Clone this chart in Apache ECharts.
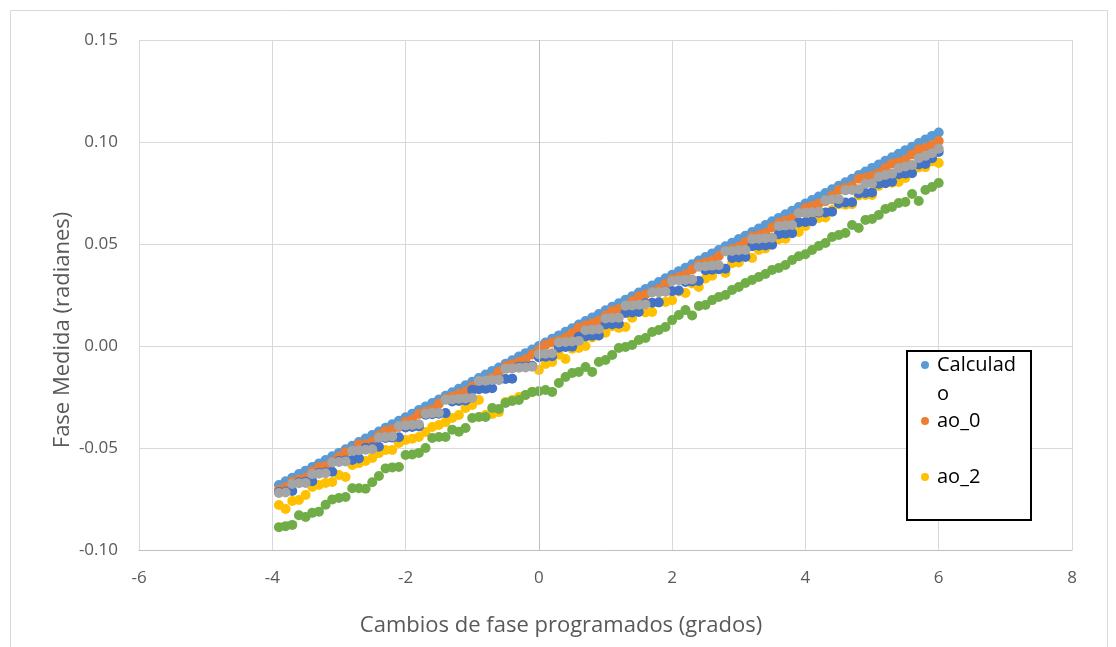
<!DOCTYPE html>
<html>
<head>
<meta charset="utf-8">
<script src="https://cdn.jsdelivr.net/npm/echarts@6/dist/echarts.min.js"></script>
<style>
html,body{margin:0;padding:0;background:#fff;}
#chart{width:1116px;height:647px;}
</style>
</head>
<body>
<div id="chart"></div>
<script>
// Programmed phase changes (degrees)
const xs = [-3.9,-3.8,-3.7,-3.6,-3.5,-3.4,-3.3,-3.2,-3.1,-3.0,
  -2.9,-2.8,-2.7,-2.6,-2.5,-2.4,-2.3,-2.2,-2.1,-2.0,
  -1.9,-1.8,-1.7,-1.6,-1.5,-1.4,-1.3,-1.2,-1.1,-1.0,
  -0.9,-0.8,-0.7,-0.6,-0.5,-0.4,-0.3,-0.2,-0.1,0.0,
  0.1,0.2,0.3,0.4,0.5,0.6,0.7,0.8,0.9,1.0,
  1.1,1.2,1.3,1.4,1.5,1.6,1.7,1.8,1.9,2.0,
  2.1,2.2,2.3,2.4,2.5,2.6,2.7,2.8,2.9,3.0,
  3.1,3.2,3.3,3.4,3.5,3.6,3.7,3.8,3.9,4.0,
  4.1,4.2,4.3,4.4,4.5,4.6,4.7,4.8,4.9,5.0,
  5.1,5.2,5.3,5.4,5.5,5.6,5.7,5.8,5.9,6.0];

const calculado = [-0.0681,-0.0663,-0.0646,-0.0628,-0.0611,-0.0593,-0.0576,-0.0559,-0.0541,-0.0524,
  -0.0506,-0.0489,-0.0471,-0.0454,-0.0436,-0.0419,-0.0401,-0.0384,-0.0367,-0.0349,
  -0.0332,-0.0314,-0.0297,-0.0279,-0.0262,-0.0244,-0.0227,-0.0209,-0.0192,-0.0175,
  -0.0157,-0.0140,-0.0122,-0.0105,-0.0087,-0.0070,-0.0052,-0.0035,-0.0017,0.0000,
  0.0017,0.0035,0.0052,0.0070,0.0087,0.0105,0.0122,0.0140,0.0157,0.0175,
  0.0192,0.0209,0.0227,0.0244,0.0262,0.0279,0.0297,0.0314,0.0332,0.0349,
  0.0367,0.0384,0.0401,0.0419,0.0436,0.0454,0.0471,0.0489,0.0506,0.0524,
  0.0541,0.0559,0.0576,0.0593,0.0611,0.0628,0.0646,0.0663,0.0681,0.0698,
  0.0716,0.0733,0.0750,0.0768,0.0785,0.0803,0.0820,0.0838,0.0855,0.0873,
  0.0890,0.0908,0.0925,0.0942,0.0960,0.0977,0.0995,0.1012,0.1030,0.1047];

const ao_0 = [-0.0706,-0.0693,-0.0666,-0.0656,-0.0646,-0.0615,-0.0594,-0.0589,-0.0567,-0.0544,
  -0.0521,-0.0513,-0.0483,-0.0482,-0.0468,-0.0439,-0.0417,-0.0409,-0.0397,-0.0371,
  -0.0360,-0.0333,-0.0322,-0.0313,-0.0283,-0.0259,-0.0247,-0.0235,-0.0223,-0.0199,
  -0.0175,-0.0169,-0.0155,-0.0127,-0.0101,-0.0090,-0.0079,-0.0065,-0.0042,-0.0020,
  0.0005,0.0017,0.0027,0.0040,0.0063,0.0089,0.0100,0.0111,0.0124,0.0149,
  0.0172,0.0181,0.0193,0.0219,0.0243,0.0253,0.0266,0.0278,0.0304,0.0327,
  0.0338,0.0350,0.0375,0.0399,0.0409,0.0419,0.0441,0.0465,0.0474,0.0486,
  0.0510,0.0534,0.0543,0.0554,0.0581,0.0604,0.0614,0.0626,0.0652,0.0675,
  0.0686,0.0697,0.0710,0.0736,0.0765,0.0775,0.0784,0.0820,0.0825,0.0834,
  0.0847,0.0873,0.0895,0.0901,0.0914,0.0939,0.0963,0.0972,0.0984,0.1005];

const ao_1 = [-0.0721,-0.0718,-0.0676,-0.0673,-0.0671,-0.0628,-0.0626,-0.0624,-0.0571,-0.0569,
  -0.0566,-0.0514,-0.0511,-0.0509,-0.0506,-0.0449,-0.0446,-0.0444,-0.0392,-0.0389,
  -0.0387,-0.0384,-0.0332,-0.0329,-0.0327,-0.0264,-0.0262,-0.0259,-0.0257,-0.0255,
  -0.0172,-0.0170,-0.0167,-0.0165,-0.0112,-0.0110,-0.0107,-0.0105,-0.0102,-0.0040,
  -0.0038,-0.0035,0.0017,0.0020,0.0022,0.0025,0.0077,0.0080,0.0082,0.0135,
  0.0137,0.0139,0.0197,0.0199,0.0202,0.0204,0.0262,0.0264,0.0267,0.0319,
  0.0322,0.0324,0.0326,0.0389,0.0391,0.0394,0.0396,0.0464,0.0466,0.0469,
  0.0471,0.0524,0.0526,0.0528,0.0531,0.0588,0.0591,0.0593,0.0651,0.0653,
  0.0656,0.0658,0.0715,0.0718,0.0720,0.0763,0.0765,0.0768,0.0795,0.0798,
  0.0830,0.0838,0.0845,0.0872,0.0880,0.0887,0.0920,0.0932,0.0945,0.0967];

const ao_2 = [-0.0779,-0.0799,-0.0760,-0.0755,-0.0730,-0.0691,-0.0681,-0.0672,-0.0667,-0.0632,
  -0.0642,-0.0583,-0.0574,-0.0564,-0.0549,-0.0525,-0.0510,-0.0510,-0.0475,-0.0461,
  -0.0455,-0.0446,-0.0422,-0.0397,-0.0387,-0.0373,-0.0353,-0.0338,-0.0304,-0.0289,
  -0.0265,-0.0338,-0.0333,-0.0324,-0.0275,-0.0265,-0.0250,-0.0240,-0.0225,-0.0118,
  -0.0088,-0.0078,-0.0043,-0.0064,-0.0013,-0.0010,0.0000,0.0042,0.0052,0.0065,
  0.0097,0.0089,0.0093,0.0139,0.0172,0.0164,0.0167,0.0214,0.0216,0.0224,
  0.0267,0.0260,0.0306,0.0289,0.0331,0.0344,0.0376,0.0358,0.0406,0.0409,
  0.0451,0.0431,0.0471,0.0478,0.0516,0.0523,0.0526,0.0565,0.0559,0.0588,
  0.0621,0.0628,0.0630,0.0667,0.0695,0.0693,0.0695,0.0738,0.0740,0.0740,
  0.0785,0.0798,0.0800,0.0804,0.0824,0.0867,0.0875,0.0877,0.0905,0.0897];

const ao_3 = [-0.0716,-0.0713,-0.0711,-0.0668,-0.0666,-0.0663,-0.0621,-0.0619,-0.0616,-0.0564,
  -0.0561,-0.0559,-0.0551,-0.0499,-0.0496,-0.0494,-0.0451,-0.0449,-0.0447,-0.0399,
  -0.0397,-0.0394,-0.0337,-0.0334,-0.0332,-0.0329,-0.0272,-0.0269,-0.0267,-0.0215,
  -0.0212,-0.0210,-0.0207,-0.0165,-0.0162,-0.0160,-0.0102,-0.0100,-0.0097,-0.0055,
  -0.0053,-0.0050,-0.0008,-0.0005,-0.0003,0.0045,0.0047,0.0050,0.0052,0.0105,
  0.0107,0.0109,0.0162,0.0164,0.0167,0.0209,0.0212,0.0214,0.0267,0.0269,
  0.0272,0.0314,0.0316,0.0319,0.0371,0.0374,0.0376,0.0379,0.0431,0.0434,
  0.0436,0.0489,0.0491,0.0493,0.0496,0.0548,0.0551,0.0553,0.0606,0.0608,
  0.0611,0.0653,0.0655,0.0658,0.0700,0.0703,0.0705,0.0748,0.0750,0.0753,
  0.0795,0.0798,0.0805,0.0842,0.0845,0.0847,0.0890,0.0892,0.0920,0.0951];

const ao_4 = [-0.0888,-0.0883,-0.0877,-0.0830,-0.0838,-0.0818,-0.0812,-0.0778,-0.0752,-0.0745,
  -0.0740,-0.0697,-0.0697,-0.0700,-0.0668,-0.0637,-0.0600,-0.0595,-0.0593,-0.0534,
  -0.0532,-0.0524,-0.0500,-0.0451,-0.0446,-0.0446,-0.0410,-0.0420,-0.0402,-0.0353,
  -0.0348,-0.0348,-0.0304,-0.0309,-0.0279,-0.0270,-0.0265,-0.0240,-0.0225,-0.0222,
  -0.0216,-0.0225,-0.0181,-0.0152,-0.0132,-0.0127,-0.0103,-0.0127,-0.0078,-0.0069,
  -0.0044,-0.0010,-0.0005,0.0005,0.0029,0.0039,0.0069,0.0078,0.0093,0.0127,
  0.0152,0.0176,0.0150,0.0196,0.0201,0.0225,0.0240,0.0250,0.0275,0.0289,
  0.0309,0.0324,0.0338,0.0353,0.0373,0.0382,0.0397,0.0422,0.0440,0.0450,
  0.0471,0.0490,0.0505,0.0534,0.0544,0.0554,0.0593,0.0578,0.0618,0.0623,
  0.0642,0.0672,0.0681,0.0701,0.0706,0.0745,0.0711,0.0765,0.0779,0.0799];

const xTicks = [-6, -4, -2, 0, 2, 4, 6, 8];
const yTicks = [-0.10, -0.05, 0.00, 0.05, 0.10, 0.15];

const seriesDefs = [
  { name: 'Calculado', data: calculado, color: '#5B9BD5' },
  { name: 'ao_0', data: ao_0, color: '#ED7D31' },
  { name: 'ao_2', data: ao_2, color: '#FFC000' },
  { name: 'ao_3', data: ao_3, color: '#4472C4' },
  { name: 'ao_1', data: ao_1, color: '#A5A5A5' },
  { name: 'ao_4', data: ao_4, color: '#70AD47' }
];

const FONT = '"Open Sans", "Noto Sans", sans-serif';
const chart = echarts.init(document.getElementById('chart'), null, { renderer: 'canvas' });

const series = seriesDefs.map(s => ({
  name: s.name,
  type: 'scatter',
  symbol: 'circle',
  symbolSize: 10,
  itemStyle: { color: s.color, opacity: 1 },
  data: xs.map((x, i) => [x, s.data[i]]),
  z: 3
}));
// vertical value-axis line at x = 0
series.unshift({
  type: 'line', data: [], z: 1, silent: true,
  markLine: {
    silent: true, symbol: 'none', animation: false,
    label: { show: false },
    lineStyle: { color: '#BFBFBF', width: 1, type: 'solid' },
    data: [{ xAxis: 0 }]
  }
});

const legendItems = [
  { text: 'Calculad', y: 365, color: '#5B9BD5' },
  { text: 'o', y: 394, color: null },
  { text: 'ao_0', y: 421, color: '#ED7D31' },
  { text: 'ao_2', y: 477, color: '#FFC000' }
];
const graphics = [
  { type: 'rect', shape: { x: 10.5, y: 10.5, width: 1097, height: 660 }, style: { fill: 'none', stroke: '#D9D9D9', lineWidth: 1 }, z: -1 },
  { type: 'text', x: 561, y: 626, style: { text: 'Cambios de fase programados (grados)', font: '22px ' + FONT, fill: '#595959', align: 'center', verticalAlign: 'middle', textAlign: 'center', textVerticalAlign: 'middle' } },
  { type: 'text', x: 63, y: 330, rotation: Math.PI / 2, style: { text: 'Fase Medida (radianes)', font: '22px ' + FONT, fill: '#595959', align: 'center', verticalAlign: 'middle', textAlign: 'center', textVerticalAlign: 'middle' } },
  { type: 'rect', shape: { x: 907, y: 351, width: 124, height: 169 }, style: { fill: '#fff', stroke: '#000', lineWidth: 2 }, z: 10 }
];
legendItems.forEach(it => {
  if (it.color) {
    graphics.push({ type: 'circle', shape: { cx: 925, cy: it.y, r: 4 }, style: { fill: it.color }, z: 11 });
  }
  graphics.push({ type: 'text', x: 937, y: it.y, style: { text: it.text, font: '20px ' + FONT, fill: '#000', align: 'left', verticalAlign: 'middle', textAlign: 'left', textVerticalAlign: 'middle' }, z: 11 });
});

chart.setOption({
  animation: false,
  backgroundColor: '#ffffff',
  grid: { left: 139, right: 44, top: 40, bottom: 97, containLabel: false },
  xAxis: {
    type: 'value', min: xTicks[0], max: xTicks[xTicks.length - 1], interval: 2,
    axisLine: { show: true, onZero: false, lineStyle: { color: '#BFBFBF', width: 1 } },
    axisTick: { show: false },
    axisLabel: { color: '#595959', fontSize: 17, fontFamily: FONT, margin: 20 },
    splitLine: { show: true, lineStyle: { color: '#D9D9D9', width: 1 } }
  },
  yAxis: {
    type: 'value', min: yTicks[0], max: yTicks[yTicks.length - 1], interval: 0.05,
    axisLine: { show: false },
    axisTick: { show: false },
    axisLabel: { color: '#595959', fontSize: 17, fontFamily: FONT, margin: 21,
      formatter: v => v.toFixed(2) },
    splitLine: { show: true, lineStyle: { color: '#D9D9D9', width: 1 } }
  },
  graphic: graphics,
  series: series
});
</script>
</body>
</html>
